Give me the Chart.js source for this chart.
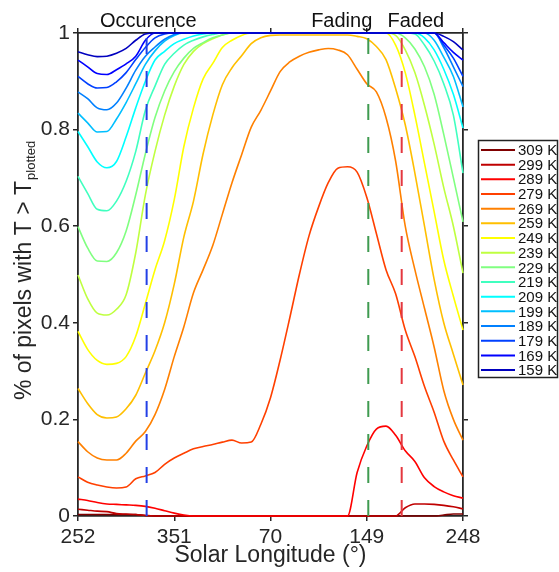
<!DOCTYPE html>
<html>
<head>
<meta charset="utf-8">
<script src="https://cdn.jsdelivr.net/npm/chart.js@4.4.1/dist/chart.umd.min.js"></script>
<style>
    html, body { margin: 0; padding: 0; background: #fff; }
</style>
</head>
<body>
<canvas id="chart" width="559" height="572"></canvas>
<script>
// ---- Datos ---------------------------------------------------------------

// índice de muestra a lo largo del eje x (10 muestras entre marcas)
const sampleIdx = Array.from({ length: 41 }, (_, i) => i);
const lsTicks   = ['252', '351', '70', '149', '248'];

const tempLabels = ['309 K', '299 K', '289 K', '279 K', '269 K', '259 K', '249 K', '239 K',
                    '229 K', '219 K', '209 K', '199 K', '189 K', '179 K', '169 K', '159 K'];
const tempColors = ['#800000', '#bf0000', '#ff0000', '#ff4000', '#ff8000', '#ffbf00', '#ffff00', '#bfff40',
                    '#80ff80', '#40ffbf', '#00ffff', '#00bfff', '#0080ff', '#0040ff', '#0000ff', '#0000bf'];

const p309 = [.003, .003, .003, .003, .003, .003, .003, .001, 0, 0, 0, 0, 0, 0, 0, 0, 0, 0, 0, 0, 0,
              0, 0, 0, 0, 0, 0, 0, 0, 0, 0, 0, 0, 0, 0, 0, 0, 0, .002, .004, .004];
const p299 = [.014, .012, .010, .009, .005, .004, .003, .001, 0, 0, 0, 0, 0, 0, 0, 0, 0, 0, 0, 0, 0,
              0, 0, 0, 0, 0, 0, 0, 0, 0, 0, 0, 0, 0, .017, .025, .025, .024, .022, .019, .015];
const p289 = [.035, .032, .028, .025, .024, .023, .022, .020, .016, .011, .006, .002, 0, 0, 0, 0, 0, 0, 0, 0, 0,
              0, 0, 0, 0, 0, 0, 0, 0, .090, .145, .180, .186, .167, .135, .113, .079, .061, .050, .042, .037];
const p279 = [.081, .070, .064, .060, .058, .060, .077, .083, .090, .107, .120, .130, .139, .144, .148, .153, .157, .151, .153, .190, .245,
              .323, .410, .500, .580, .640, .690, .720, .723, .712, .660, .585, .510, .460, .385, .330, .268, .215, .155, .116, .081];
const p269 = [.154, .133, .120, .116, .116, .130, .155, .175, .210, .262, .330, .392, .462, .510, .560, .625, .690, .748, .805, .840, .880,
              .920, .940, .952, .960, .965, .968, .965, .955, .925, .895, .878, .825, .735, .600, .510, .430, .350, .260, .200, .157];
const p259 = [.264, .233, .210, .203, .205, .222, .250, .296, .342, .400, .480, .578, .652, .750, .830, .893, .928, .953, .978, .990, .995,
              .996, .996, .996, .996, .996, .996, .996, .996, .993, .988, .972, .945, .885, .810, .710, .600, .490, .400, .335, .271];
const p249 = [.382, .345, .322, .314, .316, .330, .372, .440, .510, .570, .655, .765, .845, .905, .937, .970, .985, .995, 1, 1, 1,
              1, 1, 1, 1, 1, 1, 1, 1, 1, 1, 1, 1, .975, .918, .830, .730, .630, .530, .455, .385];
const p239 = [.499, .450, .420, .416, .428, .458, .545, .665, .755, .830, .890, .935, .962, .978, .988, .996, 1, 1, 1, 1, 1,
              1, 1, 1, 1, 1, 1, 1, 1, 1, 1, 1, 1, .995, .965, .918, .850, .770, .680, .600, .503];
const p229 = [.599, .555, .528, .527, .545, .590, .665, .750, .825, .880, .920, .948, .968, .980, .990, .996, 1, 1, 1, 1, 1,
              1, 1, 1, 1, 1, 1, 1, 1, 1, 1, 1, 1, 1, .990, .967, .930, .873, .790, .700, .609];
const p219 = [.703, .668, .635, .632, .652, .693, .755, .840, .890, .935, .958, .975, .985, .992, .997, 1, 1, 1, 1, 1, 1,
              1, 1, 1, 1, 1, 1, 1, 1, 1, 1, 1, 1, 1, 1, .998, .975, .942, .895, .830, .710];
const p209 = [.796, .765, .733, .721, .734, .785, .845, .900, .944, .962, .978, .987, .994, .998, 1, 1, 1, 1, 1, 1, 1,
              1, 1, 1, 1, 1, 1, 1, 1, 1, 1, 1, 1, 1, 1, 1, .990, .965, .925, .873, .803];
const p199 = [.834, .814, .795, .796, .822, .856, .895, .935, .963, .983, .995, 1, 1, 1, 1, 1, 1, 1, 1, 1, 1,
              1, 1, 1, 1, 1, 1, 1, 1, 1, 1, 1, 1, 1, 1, 1, 1, .985, .950, .910, .847];
const p189 = [.878, .864, .845, .841, .855, .886, .923, .952, .971, .987, .997, 1, 1, 1, 1, 1, 1, 1, 1, 1, 1,
              1, 1, 1, 1, 1, 1, 1, 1, 1, 1, 1, 1, 1, 1, 1, 1, 1, .970, .930, .889];
const p179 = [.910, .895, .886, .887, .899, .918, .945, .970, .990, .998, 1, 1, 1, 1, 1, 1, 1, 1, 1, 1, 1,
              1, 1, 1, 1, 1, 1, 1, 1, 1, 1, 1, 1, 1, 1, 1, 1, 1, .975, .948, .910];
const p169 = [.944, .930, .916, .914, .924, .936, .952, .985, 1, 1, 1, 1, 1, 1, 1, 1, 1, 1, 1, 1, 1,
              1, 1, 1, 1, 1, 1, 1, 1, 1, 1, 1, 1, 1, 1, 1, 1, 1, .980, .960, .944];
const p159 = [.961, .955, .951, .952, .958, .968, .985, .998, 1, 1, 1, 1, 1, 1, 1, 1, 1, 1, 1, 1, 1,
              1, 1, 1, 1, 1, 1, 1, 1, 1, 1, 1, 1, 1, 1, 1, 1, 1, .993, .982, .965];

const fractions = [p309, p299, p289, p279, p269, p259, p249, p239,
                   p229, p219, p209, p199, p189, p179, p169, p159];

// líneas de fase (en índice de muestra) y sus rótulos
const phaseLines  = [7.13, 30.16, 33.63];
const phaseColors = ['#2340e6', '#3f9b50', '#e4373f'];
const phaseNotes  = ['Occurence', 'Fading', 'Faded'];
const phaseNoteAt = [7.3, 27.4, 35.1];

// ---- Estilo --------------------------------------------------------------

const ink = '#262626';
Chart.defaults.font.family = "'Liberation Sans', Arial, Helvetica, sans-serif";
Chart.defaults.color = ink;

const axisGrid   = { drawOnChartArea: false, tickLength: 5, color: ink, lineWidth: 1.5 };
const axisBorder = { color: ink, width: 1.8 };

// ---- Plugin: título y con subíndice, rótulos de fase y leyenda -----------

const decorPlugin = {
    id: 'decor',
    afterDraw(chart) {
        const ctx = chart.ctx;
        const xs  = chart.scales.x;

        // título del eje y
        ctx.save();
        ctx.fillStyle = ink;
        ctx.translate(0, 271);
        ctx.rotate(-Math.PI / 2);
        ctx.textBaseline = 'alphabetic';
        ctx.textAlign = 'left';
        const mainText = '% of pixels with T > T';
        const subText  = 'plotted';
        ctx.font = "23px 'Liberation Sans', Arial, sans-serif";
        const wMain = ctx.measureText(mainText).width;
        ctx.font = "13px 'Liberation Sans', Arial, sans-serif";
        const wSub = ctx.measureText(subText).width;
        const start = -(wMain + wSub) / 2;
        ctx.font = "23px 'Liberation Sans', Arial, sans-serif";
        ctx.fillText(mainText, start, 31);
        ctx.font = "13px 'Liberation Sans', Arial, sans-serif";
        ctx.fillText(subText, start + wMain + 1, 35);
        ctx.restore();

        // rótulos de fase sobre el eje superior
        ctx.save();
        ctx.fillStyle = '#111';
        ctx.font = "20px 'Liberation Sans', Arial, sans-serif";
        ctx.textAlign = 'center';
        ctx.textBaseline = 'alphabetic';
        phaseNotes.forEach((txt, i) => {
            ctx.fillText(txt, xs.getPixelForValue(phaseNoteAt[i]), 27);
        });
        ctx.restore();

        // leyenda con recuadro
        ctx.save();
        ctx.strokeStyle = '#222';
        ctx.lineWidth = 1.5;
        ctx.strokeRect(478.5, 140.5, 79, 237);
        ctx.font = "15px 'Liberation Sans Narrow', 'Liberation Sans', Arial, sans-serif";
        ctx.textBaseline = 'middle';
        ctx.textAlign = 'left';
        tempLabels.forEach((lab, i) => {
            const y = 150 + i * 14.67;
            ctx.strokeStyle = tempColors[i];
            ctx.lineWidth = 2;
            ctx.beginPath();
            ctx.moveTo(481, y);
            ctx.lineTo(515, y);
            ctx.stroke();
            ctx.fillStyle = '#111';
            ctx.fillText(lab, 518, y + 1);
        });
        ctx.restore();
    }
};

// ---- Datasets ------------------------------------------------------------

const dashSets = phaseLines.map((v, i) => ({
    data: [{ x: v, y: 0 }, { x: v, y: 1 }],
    borderColor: phaseColors[i],
    borderWidth: 2,
    borderDash: [16, 17],
    pointRadius: 0,
    tension: 0,
    clip: false
}));

// 159 K se dibuja encima (el dataset 0 queda arriba)
const curveSets = tempLabels.map((lab, i) => ({
    label: lab,
    data: fractions[i],
    borderColor: tempColors[i],
    borderWidth: 1.6,
    pointRadius: 0,
    cubicInterpolationMode: 'monotone',
    clip: false
})).reverse();

new Chart(document.getElementById('chart'), {
    type: 'line',
    data: {
        labels: sampleIdx,
        datasets: [...dashSets, ...curveSets]
    },
    options: {
        responsive: false,
        animation: false,
        layout: { padding: { left: 38, top: 27, right: 90, bottom: 0 } },
        plugins: {
            legend: { display: false },
            tooltip: { enabled: false }
        },
        scales: {
            x: {
                type: 'linear',
                position: 'bottom',
                min: 0,
                max: 40,
                ticks: {
                    stepSize: 10,
                    autoSkip: false,
                    maxRotation: 0,
                    padding: 4,
                    font: { size: 21 },
                    color: ink,
                    callback: v => lsTicks[v / 10]
                },
                grid: axisGrid,
                border: axisBorder,
                title: {
                    display: true,
                    text: 'Solar Longitude (°)',
                    font: { size: 23 },
                    color: ink,
                    padding: { top: 0, bottom: 3 }
                },
                afterFit: s => { s.height = 56; }
            },
            xTop: {
                type: 'linear',
                position: 'top',
                min: 0,
                max: 40,
                ticks: { display: false, stepSize: 10 },
                grid: axisGrid,
                border: axisBorder,
                afterFit: s => { s.height = 6; }
            },
            y: {
                min: 0,
                max: 1,
                ticks: {
                    stepSize: 0.2,
                    padding: 3,
                    font: { size: 21 },
                    color: ink,
                    callback: v => String(+v.toFixed(1))
                },
                grid: axisGrid,
                border: axisBorder,
                afterFit: s => { s.width = 40; }
            },
            yRight: {
                position: 'right',
                min: 0,
                max: 1,
                ticks: { display: false, stepSize: 0.2 },
                grid: axisGrid,
                border: axisBorder,
                afterFit: s => { s.width = 6; }
            }
        }
    },
    plugins: [decorPlugin]
});
</script>
</body>
</html>
